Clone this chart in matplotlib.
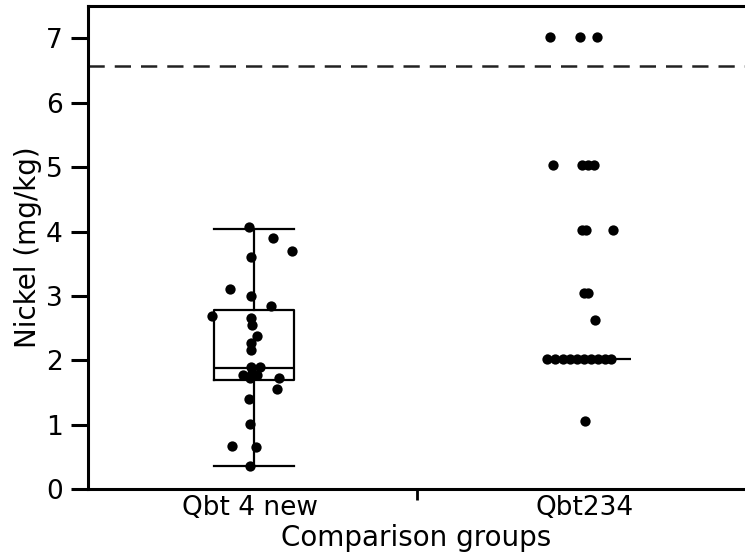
import numpy as np
import matplotlib
matplotlib.use('Agg')
import matplotlib.pyplot as plt

group_names = ['Qbt 4 new', 'Qbt234']

# Qbt 4 new: values and horizontal jitter
qbt4_values = [4.07, 3.90, 3.70, 3.60, 3.11, 3.00, 2.84, 2.69, 2.65, 2.55, 2.38,
               2.27, 2.16, 1.90, 1.90, 1.80, 1.77, 1.77, 1.72, 1.72, 1.55, 1.40,
               1.01, 0.67, 0.65, 0.36]
qbt4_jitter = [-1, 23, 42, 1, -20, 1, 21, -38, 1, 2, 7,
               1, 1, 1, 10, 2, -7, 7, 0, 29, 27, -1,
               0, -18, 6, 0]

# Qbt234
qbt234_values = [7.02, 7.02, 7.02, 5.03, 5.03, 5.03, 5.03, 4.02, 4.02, 4.02,
                 3.04, 3.04, 2.63, 2.02, 2.02, 2.02, 2.02, 2.02, 2.02, 2.02,
                 2.02, 2.02, 2.02, 1.06]
qbt234_jitter = [-34, -4, 13, -31, -2, 4, 10, -2, 2, 29,
                 0, 4, 11, -37, -29, -21, -14, -7, 0, 7,
                 14, 21, 27, 1]

# box summary for Qbt 4 new
box_stats = dict(q1=1.69, med=1.88, q3=2.78, whislo=0.36, whishi=4.04)
qbt234_median = 2.02
screening_level = 6.57

plt.rcParams['font.family'] = 'DejaVu Sans'

fig = plt.figure(figsize=(7.45, 5.54), dpi=100)
ax = fig.add_axes([0.118, 0.117, 0.882, 0.872])

px = 335.0  # pixels per category unit
centers = [0.5, 1.5]

ax.scatter(centers[0] + np.array(qbt4_jitter) / px, qbt4_values,
           s=55, color='black', zorder=3, linewidths=0)
ax.scatter(centers[1] + np.array(qbt234_jitter) / px, qbt234_values,
           s=55, color='black', zorder=3, linewidths=0)

stats = [dict(box_stats, fliers=[], label='')]
ax.bxp(stats, positions=[centers[0] + 0.012], widths=0.24, showfliers=False,
       boxprops=dict(color='black', linewidth=1.6),
       medianprops=dict(color='black', linewidth=1.6),
       whiskerprops=dict(color='black', linewidth=1.6),
       capprops=dict(color='black', linewidth=1.6), capwidths=0.24,
       manage_ticks=False)

ax.hlines(qbt234_median, centers[1] - 0.11, centers[1] + 0.14,
          color='black', linewidth=1.6, zorder=2)

ax.axhline(screening_level, color='#222222', linewidth=1.8,
           linestyle=(0, (6.5, 4)), zorder=1)

ax.set_xlim(0.016, 1.98)
ax.set_ylim(0, 7.5)
ax.set_yticks(range(0, 8))
ax.set_xticks(centers)
ax.set_xticklabels(group_names)
ax.set_xticks([1.0], minor=True)
ax.tick_params(axis='x', which='major', length=0, labelsize=19, pad=4)
ax.tick_params(axis='x', which='minor', length=8, width=2, direction='out')
ax.tick_params(axis='y', length=12, width=2.2, labelsize=19, pad=6)

for side in ['left', 'bottom', 'top']:
    ax.spines[side].set_linewidth(2.2)
ax.spines['right'].set_visible(False)

ax.set_ylabel('Nickel (mg/kg)', fontsize=20, labelpad=3)
ax.set_xlabel('Comparison groups', fontsize=20, labelpad=2)

fig.savefig('out.png', dpi=100)
